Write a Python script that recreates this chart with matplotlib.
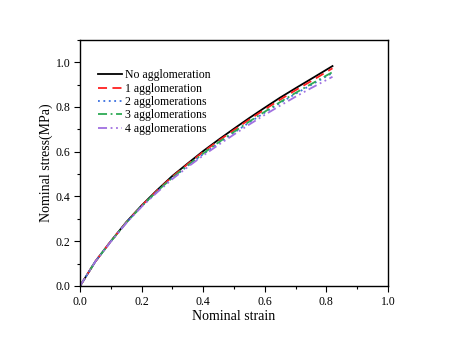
import matplotlib
matplotlib.use("Agg")
import matplotlib.pyplot as plt
import numpy as np
from matplotlib.ticker import MultipleLocator

plt.rcParams['font.family'] = ['Liberation Serif', 'DejaVu Serif']

strain = [0.0, 0.05, 0.1, 0.15, 0.2, 0.25, 0.3, 0.35, 0.4, 0.45,
          0.5, 0.55, 0.6, 0.65, 0.7, 0.75, 0.82]
no_agg = [0.0, 0.11, 0.20, 0.285, 0.36, 0.428, 0.492, 0.548, 0.603, 0.654,
          0.703, 0.751, 0.797, 0.842, 0.884, 0.925, 0.983]
agg_1 = [0.0, 0.11, 0.20, 0.284, 0.359, 0.426, 0.489, 0.545, 0.599, 0.649,
         0.697, 0.744, 0.789, 0.833, 0.875, 0.915, 0.973]
agg_2 = [0.0, 0.11, 0.199, 0.282, 0.356, 0.421, 0.482, 0.537, 0.589, 0.638,
         0.685, 0.731, 0.775, 0.818, 0.859, 0.898, 0.952]
agg_3 = [0.0, 0.11, 0.199, 0.283, 0.357, 0.423, 0.484, 0.54, 0.592, 0.642,
         0.689, 0.735, 0.779, 0.822, 0.863, 0.902, 0.956]
agg_4 = [0.0, 0.11, 0.198, 0.281, 0.354, 0.418, 0.478, 0.532, 0.583, 0.631,
         0.677, 0.722, 0.765, 0.806, 0.846, 0.884, 0.935]

labels = ["No agglomeration", "1 agglomeration", "2 agglomerations",
          "3 agglomerations", "4 agglomerations"]
series = [no_agg, agg_1, agg_2, agg_3, agg_4]
colors = ["black", "#ff2020", "#3a6fe0", "#2eaa55", "#a070e0"]
styles = ["-", (0, (5, 3)), (0, (1, 2)), (0, (5, 2, 1, 2)), (0, (5, 2, 1, 2, 1, 2))]

fig = plt.figure(figsize=(4.5, 3.44), dpi=100)
ax = fig.add_axes([0.178, 0.169, 0.684, 0.715])

for ys, lab, c, ls in zip(series, labels, colors, styles):
    ax.plot(strain, ys, color=c, linestyle=ls, linewidth=1.3, label=lab)

ax.set_xlim(0, 1.0)
ax.set_ylim(0, 1.1)
ax.xaxis.set_major_locator(MultipleLocator(0.2))
ax.xaxis.set_minor_locator(MultipleLocator(0.1))
ax.yaxis.set_major_locator(MultipleLocator(0.2))
ax.yaxis.set_minor_locator(MultipleLocator(0.1))
ax.tick_params(which='both', direction='out', top=False, right=False,
               labelsize=8.5, pad=3, width=0.8)
ax.tick_params(which='major', length=4)
ax.tick_params(which='minor', length=2)
ax.xaxis.set_major_formatter(lambda v, p: f"{v:.1f}")
ax.yaxis.set_major_formatter(lambda v, p: f"{v:.1f}")
for sp in ax.spines.values():
    sp.set_linewidth(1.0)

ax.set_xlabel("Nominal strain", fontsize=10, labelpad=2)
ax.set_ylabel("Nominal stress(MPa)", fontsize=10, labelpad=2)

ax.legend(loc='upper left', bbox_to_anchor=(0.043, 0.90), frameon=False,
          fontsize=8.5, handlelength=2.0, handletextpad=0.3,
          labelspacing=0.12, borderaxespad=0)

plt.savefig("out.png", dpi=100)
